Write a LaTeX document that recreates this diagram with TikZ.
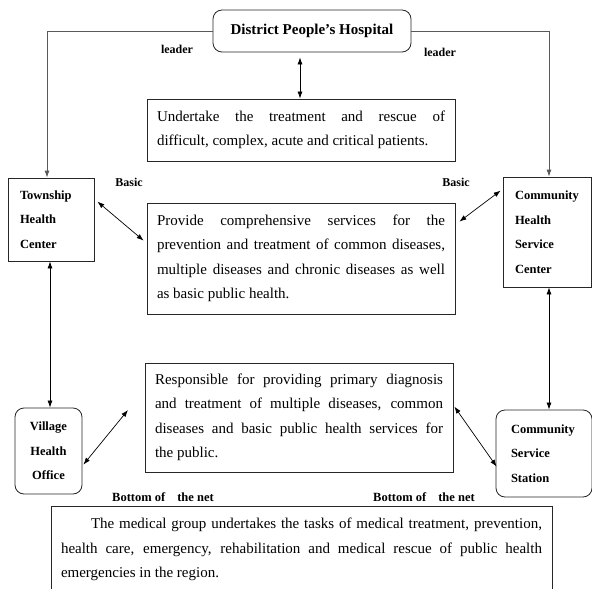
\documentclass[tikz,border=0pt]{standalone}
\usepackage{fontspec}
\setmainfont{Liberation Serif}
\usetikzlibrary{arrows.meta}

\tikzset{
  every node/.style={inner sep=0pt},
  txtbox/.style={draw=black!85, line width=0.8pt, text width=288pt, inner xsep=10pt,
                 align=justify, font=\fontsize{15}{24.5}\selectfont,
                 execute at begin node={\hyphenpenalty=10000\relax}},
  unit/.style={draw=black!85, line width=0.8pt, align=left, inner xsep=12pt,
               font=\bfseries\fontsize{12.5}{24.5}\selectfont},
  rndunit/.style={unit, rounded corners=9pt},
  lbl/.style={font=\bfseries\fontsize{12}{14}\selectfont}
}

\begin{document}
\begin{tikzpicture}[x=1pt, y=-1pt, >={Latex[length=7pt,width=5pt]},
                    every edge/.style={draw, <->, line width=0.7pt}]
\useasboundingbox (0,0) rectangle (592,589);
\clip (0,0) rectangle (592,589);

        % top level
        \node[rndunit, minimum width=198pt, minimum height=42pt, inner xsep=0pt,
              align=center, font=\bfseries\fontsize{15}{18}\selectfont] (hosp) at (312,31)
              {District People's Hospital};
        \node[txtbox, minimum height=62pt] (hard) at (301,130)
              {Undertake the treatment and rescue of\linebreak difficult, complex, acute and critical patients.};

        % middle level
        \node[unit, text width=62pt, minimum height=83pt] (town) at (51,219.5)
              {Township\\Health\\Center};
        \node[unit, text width=64pt, minimum height=110pt] (chsc) at (547,232)
              {Community\\Health\\Service\\Center};
        \node[txtbox, minimum height=111pt] (common) at (301,258.5)
              {Provide comprehensive services for the\linebreak prevention and treatment of common diseases,\linebreak multiple diseases and chronic diseases as well\linebreak as basic public health.};

        % bottom level
        \node[rndunit, text width=67pt, inner xsep=0pt, align=center,
              minimum height=86pt] (village) at (48.5,451) {Village\\Health\\Office};
        \node[rndunit, text width=66pt, inner xsep=15pt, minimum height=87pt]
              (station) at (544,453.5) {Community\\Service\\Station};
        \node[txtbox, minimum height=109pt] (primary) at (299,417.5)
              {Responsible for providing primary diagnosis\linebreak and treatment of multiple diseases, common\linebreak diseases and basic public health services for\linebreak the public.};
        \node[txtbox, text width=481pt, anchor=north, inner ysep=12pt] (group) at (301.5,506)
              {\hspace*{30pt}The medical group undertakes the tasks of medical treatment, prevention,\linebreak health care, emergency, rehabilitation and medical rescue of public health\linebreak emergencies in the region.};

        % labels
        \node[lbl] (lead1) at (177,49) {leader};
        \node[lbl] (lead2) at (440,52) {leader};
        \node[lbl] (basic1) at (129,182) {Basic};
        \node[lbl] (basic2) at (456,182) {Basic};
        \node[lbl, font=\bfseries\fontsize{12.5}{14}\selectfont] (net1) at (163,497)
              {Bottom of\hspace{12pt}the net};
        \node[lbl, font=\bfseries\fontsize{12.5}{14}\selectfont] (net2) at (424,497)
              {Bottom of\hspace{12pt}the net};

        \coordinate (vfree) at (128,410);

        % leadership
        \draw[->, draw=black!65, line width=0.8pt] (hosp.west) -| ([xshift=-4pt]town.north);
        \draw[->, draw=black!65, line width=0.8pt] (hosp.east) -| ([xshift=2pt]chsc.north);

        \path ([xshift=-12pt,yshift=-5pt]hosp.south) edge ([xshift=-12pt]hosp.south |- hard.north)
              ([shift={(3pt,-24pt)}]town.north east) edge ([shift={(-3pt,-38pt)}]common.north west)
              ([shift={(4pt,-19pt)}]common.north east) edge ([shift={(-2pt,-14pt)}]chsc.north west)
              ([xshift=-1pt]town.south) edge ([xshift=-1pt]town.south |- village.north)
              ([xshift=2pt]chsc.south) edge ([xshift=2pt]chsc.south |- station.north)
              ([shift={(1pt,-57pt)}]village.north east) edge (vfree)
              ([shift={(1pt,-44pt)}]primary.north east) edge ([shift={(1pt,-57pt)}]station.north west);
    \end{tikzpicture}
\end{document}
